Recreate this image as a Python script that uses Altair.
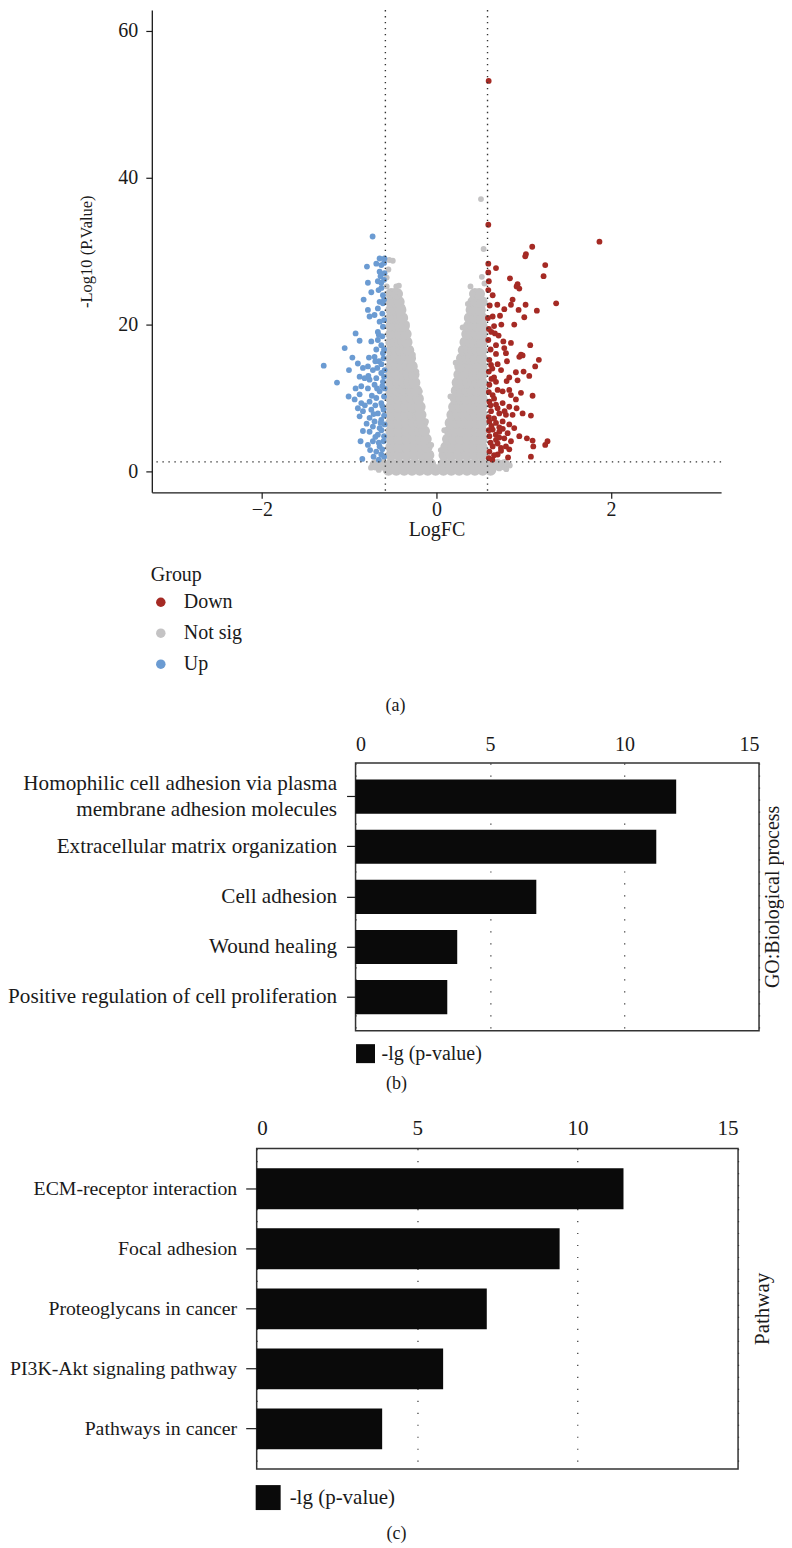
import altair as alt
import pandas as pd

FONT = "Liberation Serif"
INK = "#1a1a1a"

# ---------------- volcano data (logFC, -log10 p) ----------------
up_pts = [
    (-0.731, 32.0), (-0.651, 29.0), (-0.689, 28.3), (-0.796, 27.9), (-0.632, 28.1), (-0.651, 27.2),
    (-0.595, 29.0), (-0.785, 25.7), (-0.671, 25.9), (-0.632, 25.7), (-0.595, 27.0), (-0.746, 24.4),
    (-0.663, 24.7), (-0.834, 23.4), (-0.613, 24.0), (-0.651, 23.1), (-0.613, 22.9), (-0.671, 22.2),
    (-0.785, 22.0), (-0.766, 21.1), (-0.709, 21.3), (-0.651, 20.4), (-0.613, 19.7), (-0.671, 19.0),
    (-0.926, 18.8), (-0.880, 17.8), (-0.746, 17.7), (-0.671, 17.9), (-0.632, 17.2), (-0.689, 16.6),
    (-0.613, 16.1), (-1.051, 16.8), (-0.963, 15.5), (-0.773, 15.5), (-0.709, 15.6), (-0.659, 15.0),
    (-0.606, 15.4), (-1.291, 14.4), (-1.002, 13.8), (-0.900, 14.7), (-0.842, 14.1), (-0.785, 14.3),
    (-0.728, 13.8), (-0.678, 14.1), (-0.632, 13.4), (-0.594, 13.8), (-0.880, 12.9), (-0.823, 12.7),
    (-0.766, 12.5), (-0.689, 12.7), (-0.613, 12.2), (-1.139, 12.1), (-0.861, 11.6), (-0.785, 11.3),
    (-0.709, 11.8), (-0.651, 10.9), (-0.594, 11.3), (-0.926, 11.3), (-1.006, 10.2), (-0.880, 10.5),
    (-0.937, 9.8), (-0.861, 9.3), (-0.766, 9.5), (-0.689, 10.0), (-0.632, 9.3), (-0.900, 8.6),
    (-0.842, 8.2), (-0.746, 8.4), (-0.671, 7.9), (-0.606, 8.4), (-0.880, 7.5), (-0.766, 7.3),
    (-0.709, 6.8), (-0.632, 7.0), (-0.728, 6.1), (-0.651, 5.9), (-0.594, 6.4), (-0.766, 5.4),
    (-0.671, 5.0), (-0.842, 5.5), (-0.869, 4.1), (-0.785, 3.6), (-0.728, 4.1), (-0.651, 3.4),
    (-0.606, 4.1), (-0.689, 2.7), (-0.632, 2.3), (-0.849, 1.7),
    (-0.60, 2.0), (-0.62, 3.0), (-0.60, 4.8), (-0.63, 5.6), (-0.60, 7.6), (-0.62, 8.9), (-0.60, 10.2),
    (-0.62, 11.6), (-0.60, 12.9), (-0.63, 14.6), (-0.60, 16.6), (-0.62, 18.4), (-0.60, 20.6),
    (-0.62, 21.5), (-0.60, 23.4), (-0.63, 25.0), (-0.60, 26.1), (-0.60, 28.4), (-0.64, 26.6),
    (-0.66, 18.6), (-0.70, 15.0), (-0.74, 10.3), (-0.72, 7.8), (-0.70, 4.7), (-0.80, 6.5),
    (-0.76, 2.9), (-0.66, 1.6), (-0.72, 2.0), (-0.82, 9.0), (-0.78, 13.0), (-0.68, 11.3),
    (-0.70, 9.0), (-0.64, 6.6), (-0.66, 3.9),
]

down_pts = [
    (0.598, 53.2), (0.594, 33.6), (1.867, 31.3), (1.097, 30.6), (1.025, 29.6), (1.017, 29.3),
    (1.246, 28.1), (1.227, 26.6), (0.594, 28.3), (0.594, 27.1), (0.682, 27.7), (0.842, 26.3),
    (0.929, 25.5), (0.918, 25.2), (0.949, 24.9), (0.594, 24.7), (0.644, 24.0), (0.872, 23.4),
    (1.371, 22.9), (0.697, 22.7), (0.777, 22.1), (0.853, 22.7), (0.941, 22.0), (1.021, 22.7),
    (1.150, 21.9), (0.644, 21.1), (0.728, 21.2), (0.590, 20.9), (1.006, 21.0), (0.743, 20.0),
    (0.891, 20.0), (0.629, 19.0), (0.670, 18.8), (0.712, 18.5), (0.594, 17.9), (0.682, 17.2),
    (0.766, 17.7), (0.853, 17.5), (0.777, 16.8), (0.796, 16.1), (1.074, 17.2), (0.682, 16.0),
    (0.606, 15.2), (0.949, 15.6), (0.968, 15.9), (0.987, 15.8), (1.173, 15.2), (0.808, 15.0),
    (0.701, 14.6), (0.625, 14.5), (1.131, 14.3), (0.910, 13.5), (0.998, 13.6), (1.063, 13.0),
    (0.834, 12.8), (0.804, 12.3), (0.929, 12.4), (0.682, 12.2), (0.606, 11.8), (0.701, 11.1),
    (0.758, 10.9), (0.644, 10.4), (0.834, 11.1), (0.968, 10.7), (0.853, 10.4), (1.101, 10.3),
    (0.606, 9.5), (0.682, 9.1), (0.758, 9.3), (0.834, 8.8), (0.910, 9.8), (0.918, 8.6),
    (0.625, 8.2), (0.720, 7.9), (0.796, 7.7), (0.872, 7.7), (0.987, 7.9), (1.082, 7.6),
    (0.606, 6.8), (0.682, 6.6), (0.758, 6.8), (0.834, 6.4), (0.644, 5.7), (0.720, 5.4),
    (0.815, 5.2), (0.891, 5.9), (0.606, 4.8), (0.682, 4.3), (0.777, 4.5), (0.853, 4.1),
    (0.949, 4.8), (0.644, 3.4), (0.739, 3.2), (0.834, 3.0), (0.606, 2.7), (0.701, 2.3),
    (0.796, 3.4), (1.036, 4.5), (1.101, 4.2), (1.109, 3.4), (1.246, 3.6), (1.272, 4.1),
    (1.082, 2.0),
    (0.60, 1.8), (0.62, 3.9), (0.60, 5.6), (0.63, 6.2), (0.60, 7.4), (0.62, 9.0), (0.60, 10.8),
    (0.63, 12.6), (0.60, 13.6), (0.62, 16.6), (0.60, 19.4), (0.61, 22.6), (0.60, 25.9),
    (0.66, 7.2), (0.68, 5.0), (0.70, 3.8), (0.66, 2.2), (0.74, 2.8), (0.72, 6.0), (0.70, 8.6),
    (0.66, 9.9), (0.66, 12.8), (0.74, 13.8), (0.64, 14.0), (0.66, 19.8), (0.72, 4.6),
    (0.76, 5.8), (0.78, 8.2), (0.64, 1.6), (0.82, 1.9),
]

ns_pts = [
    (-0.54, 28.8), (-0.50, 28.7), (-0.57, 26.4), (-0.55, 27.5), (-0.57, 25.2), (-0.46, 25.2),
    (-0.43, 25.3), (-0.50, 24.1), (-0.42, 24.2), (-0.39, 22.4), (-0.34, 20.1), (-0.27, 15.9),
    (-0.19, 10.9), (-0.23, 13.6), (-0.12, 6.8), (-0.06, 3.6),
    (0.51, 37.1), (0.54, 30.3), (0.39, 25.2), (0.41, 24.2), (0.49, 24.5), (0.55, 25.6),
    (0.52, 26.5), (0.36, 22.8), (0.30, 19.6), (0.22, 14.8), (0.16, 10.2), (0.09, 5.6), (0.05, 2.9),
    (-0.71, 0.95), (-0.48, 0.3), (0.69, 1.1), (0.78, 1.0), (-0.75, 0.5), (-0.66, 0.2),
    (0.72, 0.4), (0.80, 0.3), (0.84, 0.8),
]

# dense grey mass of the V (not significant genes), drawn with larger dots
ns_core = [
    (-0.52, 1.0), (-0.43, 1.0), (-0.34, 1.0), (-0.25, 1.0), (-0.16, 1.0), (-0.07, 1.0),
    (-0.52, 2.2), (-0.43, 2.2), (-0.34, 2.2), (-0.25, 2.2), (-0.16, 2.2), (-0.09, 2.2),
    (-0.52, 3.3), (-0.43, 3.3), (-0.34, 3.3), (-0.25, 3.3), (-0.17, 3.3), (-0.11, 3.3),
    (-0.52, 4.4), (-0.43, 4.4), (-0.34, 4.4), (-0.25, 4.4), (-0.18, 4.4), (-0.12, 4.4),
    (-0.52, 5.5), (-0.43, 5.5), (-0.34, 5.5), (-0.26, 5.5), (-0.19, 5.5), (-0.14, 5.5),
    (-0.52, 6.6), (-0.43, 6.6), (-0.34, 6.6), (-0.26, 6.6), (-0.20, 6.6), (-0.16, 6.6),
    (-0.52, 7.7), (-0.43, 7.7), (-0.35, 7.7), (-0.27, 7.7), (-0.21, 7.7), (-0.18, 7.7),
    (-0.52, 8.8), (-0.43, 8.8), (-0.35, 8.8), (-0.27, 8.8), (-0.19, 8.8),
    (-0.52, 9.9), (-0.43, 9.9), (-0.35, 9.9), (-0.28, 9.9), (-0.21, 9.9),
    (-0.52, 11.0), (-0.44, 11.0), (-0.36, 11.0), (-0.29, 11.0), (-0.23, 11.0),
    (-0.52, 12.1), (-0.44, 12.1), (-0.37, 12.1), (-0.31, 12.1), (-0.25, 12.1),
    (-0.52, 13.2), (-0.45, 13.2), (-0.38, 13.2), (-0.32, 13.2), (-0.26, 13.2),
    (-0.52, 14.3), (-0.45, 14.3), (-0.39, 14.3), (-0.33, 14.3), (-0.28, 14.3),
    (-0.52, 15.4), (-0.46, 15.4), (-0.40, 15.4), (-0.35, 15.4), (-0.30, 15.4),
    (-0.52, 16.5), (-0.46, 16.5), (-0.41, 16.5), (-0.36, 16.5), (-0.32, 16.5),
    (-0.52, 17.6), (-0.47, 17.6), (-0.42, 17.6), (-0.38, 17.6), (-0.34, 17.6),
    (-0.52, 18.7), (-0.47, 18.7), (-0.42, 18.7), (-0.38, 18.7), (-0.35, 18.7),
    (-0.52, 19.8), (-0.47, 19.8), (-0.42, 19.8), (-0.37, 19.8),
    (-0.52, 20.9), (-0.47, 20.9), (-0.43, 20.9), (-0.39, 20.9),
    (-0.52, 22.0), (-0.47, 22.0), (-0.43, 22.0), (-0.41, 22.0),
    (-0.52, 23.1), (-0.47, 23.1), (-0.43, 23.1),
    (-0.52, 24.2), (-0.48, 24.2), (-0.45, 24.2),
    (0.08, 1.0), (0.17, 1.0), (0.26, 1.0), (0.35, 1.0), (0.44, 1.0), (0.52, 1.0),
    (0.09, 2.2), (0.17, 2.2), (0.26, 2.2), (0.35, 2.2), (0.44, 2.2), (0.52, 2.2),
    (0.11, 3.3), (0.19, 3.3), (0.27, 3.3), (0.36, 3.3), (0.44, 3.3), (0.52, 3.3),
    (0.13, 4.4), (0.20, 4.4), (0.28, 4.4), (0.36, 4.4), (0.44, 4.4), (0.52, 4.4),
    (0.15, 5.5), (0.22, 5.5), (0.29, 5.5), (0.37, 5.5), (0.45, 5.5), (0.52, 5.5),
    (0.16, 6.6), (0.23, 6.6), (0.30, 6.6), (0.37, 6.6), (0.45, 6.6), (0.52, 6.6),
    (0.18, 7.7), (0.25, 7.7), (0.32, 7.7), (0.38, 7.7), (0.45, 7.7), (0.52, 7.7),
    (0.20, 8.8), (0.27, 8.8), (0.33, 8.8), (0.39, 8.8), (0.46, 8.8), (0.52, 8.8),
    (0.22, 9.9), (0.28, 9.9), (0.34, 9.9), (0.40, 9.9), (0.46, 9.9), (0.52, 9.9),
    (0.23, 11.0), (0.29, 11.0), (0.35, 11.0), (0.41, 11.0), (0.47, 11.0), (0.52, 11.0),
    (0.24, 12.1), (0.30, 12.1), (0.36, 12.1), (0.42, 12.1), (0.47, 12.1), (0.52, 12.1),
    (0.26, 13.2), (0.32, 13.2), (0.38, 13.2), (0.43, 13.2), (0.48, 13.2), (0.52, 13.2),
    (0.27, 14.3), (0.33, 14.3), (0.39, 14.3), (0.44, 14.3), (0.48, 14.3), (0.52, 14.3),
    (0.29, 15.4), (0.35, 15.4), (0.40, 15.4), (0.45, 15.4), (0.52, 15.4),
    (0.31, 16.5), (0.37, 16.5), (0.42, 16.5), (0.47, 16.5), (0.52, 16.5),
    (0.33, 17.6), (0.39, 17.6), (0.44, 17.6), (0.49, 17.6), (0.52, 17.6),
    (0.35, 18.7), (0.41, 18.7), (0.46, 18.7), (0.52, 18.7),
    (0.37, 19.8), (0.42, 19.8), (0.47, 19.8), (0.52, 19.8),
    (0.38, 20.9), (0.44, 20.9), (0.49, 20.9), (0.52, 20.9),
    (0.40, 22.0), (0.45, 22.0), (0.50, 22.0),
    (0.42, 23.1), (0.47, 23.1), (0.52, 23.1),
    (0.44, 24.2), (0.49, 24.2),
    (-0.55, 0.2), (-0.46, 0.2), (-0.37, 0.2), (-0.28, 0.2), (-0.19, 0.2), (-0.10, 0.2),
    (-0.01, 0.2), (0.08, 0.2), (0.17, 0.2), (0.26, 0.2), (0.35, 0.2), (0.44, 0.2),
    (0.53, 0.2), (0.62, 0.2),
    (-0.70, 0.9), (-0.62, 0.9), (0.62, 0.9), (0.70, 0.9), (0.78, 0.9),
]

group_names = ["Down", "Not sig", "Up"]
group_colors = ["#A52A24", "#C4C3C4", "#6B9BD2"]
fc_cut = [-0.585, 0.585]
p_cut = [1.3]
x_ticks = [-2, 0, 2]
y_ticks = [0, 20, 40, 60]

# ---------------- enrichment data ----------------
go_terms = [
    "Homophilic cell adhesion via plasma membrane adhesion molecules",
    "Extracellular matrix organization",
    "Cell adhesion",
    "Wound healing",
    "Positive regulation of cell proliferation",
]
go_vals = [11.92, 11.18, 6.72, 3.78, 3.41]

kegg_terms = [
    "ECM-receptor interaction",
    "Focal adhesion",
    "Proteoglycans in cancer",
    "PI3K-Akt signaling pathway",
    "Pathways in cancer",
]
kegg_vals = [11.43, 9.44, 7.17, 5.81, 3.91]
bar_ticks = [0, 5, 10, 15]
series_name = "-lg (p-value)"


def bound_rule(x, y0, y1):
    return alt.Chart(pd.DataFrame({"b": [0]})).mark_rule(opacity=0, strokeOpacity=0).encode(
        x=alt.value(x), y=alt.value(y0), y2=alt.value(y1))


def text_at(t, x, y, size, angle=None):
    kw = dict(fontSize=size, font=FONT, color=INK)
    if angle is not None:
        kw["angle"] = angle
    return alt.Chart(pd.DataFrame({"t": [t]})).mark_text(**kw).encode(
        x=alt.value(x), y=alt.value(y), text="t:N")


def spacer():
    return alt.Chart(pd.DataFrame({"b": [0]})).mark_rule(opacity=0, strokeOpacity=0).encode(
        x=alt.value(0), y=alt.value(0), y2=alt.value(1)).properties(width=1, height=1)


# ---------------- (a) volcano ----------------
WA, HA = 570, 483
xsc = alt.Scale(domain=[-3.26, 3.26], nice=False, zero=False)
ysc = alt.Scale(domain=[-2.86, 62.86], nice=False, zero=False)
csc = alt.Scale(domain=group_names, range=group_colors)
ax_common = dict(grid=False, domainColor=INK, domainWidth=1.3, tickColor=INK, tickWidth=1.2,
                 tickSize=6, labelFont=FONT, titleFont=FONT, labelFontSize=20,
                 titleFontWeight="normal", labelColor=INK, titleColor=INK)
xax = alt.Axis(values=x_ticks, title="LogFC", labelPadding=1, titlePadding=0,
               titleFontSize=20, **ax_common)
yax = alt.Axis(values=y_ticks, title="-Log10 (P.Value)", labelPadding=8, titlePadding=23,
               titleFontSize=16.5, **ax_common)
group_legend = alt.Legend(
    title="Group", orient="none", legendX=176, legendY=556, padding=0,
    titleFont=FONT, titleFontSize=20, titleFontWeight="normal", titleColor=INK,
    titlePadding=7, labelFont=FONT, labelFontSize=20, labelColor=INK,
    symbolType="circle", symbolSize=90, symbolStrokeWidth=0, symbolOpacity=1,
    labelOffset=13, rowPadding=11)

pts_df = pd.DataFrame(
    [(x, y, "Not sig") for x, y in ns_pts]
    + [(x, y, "Down") for x, y in down_pts]
    + [(x, y, "Up") for x, y in up_pts],
    columns=["logFC", "nlp", "Group"])
core_df = pd.DataFrame([(x, y, "Not sig") for x, y in ns_core], columns=["logFC", "nlp", "Group"])

core = alt.Chart(core_df).mark_circle(size=135, opacity=1).encode(
    x=alt.X("logFC:Q", scale=xsc, axis=xax),
    y=alt.Y("nlp:Q", scale=ysc, axis=yax),
    color=alt.Color("Group:N", scale=csc, legend=group_legend))

pts = alt.Chart(pts_df).mark_circle(size=34, opacity=1).encode(
    x=alt.X("logFC:Q", scale=xsc, axis=xax),
    y=alt.Y("nlp:Q", scale=ysc, axis=yax),
    color=alt.Color("Group:N", scale=csc, legend=group_legend))

vlines = alt.Chart(pd.DataFrame({"v": fc_cut})).mark_rule(
    color="#333333", strokeWidth=1.4, strokeDash=[1.4, 4.6]).encode(
    x=alt.X("v:Q", scale=xsc, axis=xax))
hline = alt.Chart(pd.DataFrame({"v": p_cut})).mark_rule(
    color="#333333", strokeWidth=1.4, strokeDash=[1.4, 4.6]).encode(
    y=alt.Y("v:Q", scale=ysc, axis=yax))

panel_a = alt.layer(
    bound_rule(-176, 0, 708), core, pts, vlines, hline, text_at("(a)", 244, 697, 18)
).properties(width=WA, height=HA)


# ---------------- bar panels ----------------
def bar_panel(terms, vals, W, H, lab_size, tick_size, lab_pad, top_pad, top_size,
              leg_x, leg_y, sym, leg_off, side_title, side_x, side_size, cap, cap_x, cap_y,
              rule_x, rule_y0, rule_y1):
    df = pd.DataFrame({"term": terms, "val": vals, "series": [series_name] * len(terms)})
    bars = alt.Chart(df).mark_bar().encode(
        x=alt.X("val:Q", scale=alt.Scale(domain=[0, 15], nice=False),
                axis=alt.Axis(orient="top", values=bar_ticks, title=None, ticks=False, tickSize=0,
                              domain=False, grid=True, gridColor="#333333", gridDash=[1.2, 10.8],
                              gridWidth=1.2, labelPadding=top_pad, labelFont=FONT,
                              labelFontSize=top_size, labelColor=INK)),
        y=alt.Y("term:N", sort=terms, scale=alt.Scale(paddingInner=0.32, paddingOuter=0.33),
                axis=alt.Axis(title=None, domain=False, ticks=True, tickSize=tick_size,
                              tickColor=INK, tickWidth=1.2, labelPadding=lab_pad, labelFont=FONT,
                              labelFontSize=lab_size, labelColor=INK, labelLimit=600,
                              labelLineHeight=26,
                              labelOffset={"condition": {"test": "length(datum.label) > 45",
                                                         "value": -13}, "value": 0},
                              labelExpr="length(datum.label) > 45 ? [substring(datum.label, 0, 35), substring(datum.label, 36)] : datum.label")),
        color=alt.Color("series:N", scale=alt.Scale(domain=[series_name], range=["#0a0a0a"]),
                        legend=alt.Legend(title=None, orient="none", legendX=leg_x, legendY=leg_y,
                                          padding=0, symbolType="square", symbolSize=sym,
                                          symbolStrokeWidth=0, symbolOpacity=1, labelFont=FONT,
                                          labelFontSize=top_size, labelColor=INK,
                                          labelOffset=leg_off)))
    return alt.layer(
        bound_rule(rule_x, rule_y0, rule_y1),
        bars,
        text_at(side_title, side_x, H / 2, side_size, angle=270),
        text_at(cap, cap_x, cap_y, 18),
    ).properties(width=W, height=H,
                 view=alt.ViewBackground(stroke="#333333", strokeWidth=1.5))


panel_b = bar_panel(go_terms, go_vals, 404, 268, 21.2, 9, 10, 9, 20,
                    381, 281, 361, 6, "GO:Biological process", 418, 20, "(b)", 41, 321,
                    -379, -45, 334)
panel_c = bar_panel(kegg_terms, kegg_vals, 482, 321, 19.8, 11, 9, 10, 21,
                    281, 337, 625, 9, "Pathway", 507, 21, "(c)", 140, 386,
                    -280, -50, 394)

chart = alt.vconcat(
    alt.hconcat(spacer(), panel_a, spacing=0),
    alt.hconcat(spacer(), panel_b, spacing=0),
    alt.hconcat(spacer(), panel_c, spacing=0),
    spacing=0,
).resolve_scale(color="independent").resolve_legend(color="independent").properties(
    padding={"left": -33, "top": 0, "right": 0, "bottom": 0}
).configure(font=FONT).configure_view(strokeWidth=0)

chart.save("out.html", embed_options={"renderer": "svg", "actions": False})
